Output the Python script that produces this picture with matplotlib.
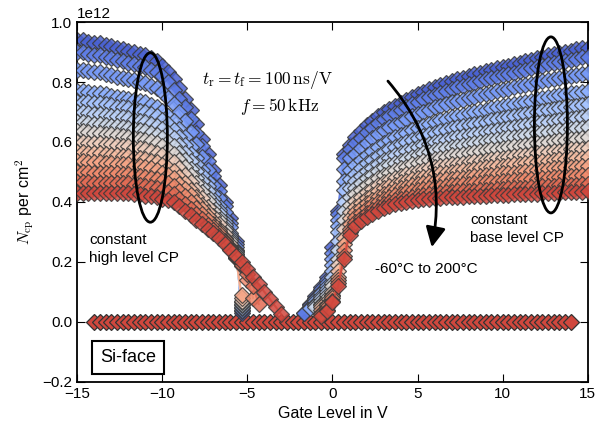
import numpy as np
import matplotlib
matplotlib.use("Agg")
import matplotlib.pyplot as plt
from matplotlib.patches import Ellipse, FancyArrowPatch

plt.rcParams['font.family'] = ['Liberation Sans', 'DejaVu Sans']
plt.rcParams['mathtext.fontset'] = 'cm'
plt.rcParams['xtick.direction'] = 'in'
plt.rcParams['ytick.direction'] = 'in'
plt.rcParams['xtick.top'] = True
plt.rcParams['ytick.right'] = True
plt.rcParams['xtick.major.size'] = 6
plt.rcParams['ytick.major.size'] = 6
plt.rcParams['axes.linewidth'] = 1.3

# gate levels in V (1/3 V steps)
x_left = np.arange(37) / 3 - 15       # -15 ... -3
x_right = np.arange(51) / 3 - 5 / 3   # -1.67 ... 15
x_zero = np.arange(85) / 3 - 14       # -14 ... 14

temps = [-60, -40, -20, 0, 20, 40, 60, 80, 100, 120, 140, 160, 180, 200]

# N_cp in 1e12 cm^-2, constant high level CP (left branch)
ncp_left = [
    [.94, .94, .935, .93, .93, .925, .92, .915, .91, .905, .90, .895, .89, .88, .87, .855, .835, .81, .78, .745, .705, .66, .61, .56, .505, .455, .40, .345, .27, .03, None, None, None, None, None, None, None],
    [.90, .90, .895, .89, .89, .885, .88, .875, .87, .865, .86, .855, .85, .84, .835, .82, .80, .775, .745, .715, .675, .63, .585, .535, .485, .435, .385, .33, .26, .035, None, None, None, None, None, None, None],
    [.84, .84, .836, .832, .832, .827, .823, .818, .815, .81, .806, .801, .797, .788, .78, .766, .748, .727, .70, .669, .633, .594, .55, .505, .458, .413, .365, .317, .25, .04, None, None, None, None, None, None, None],
    [.77, .77, .767, .763, .763, .759, .755, .751, .748, .744, .739, .736, .732, .724, .716, .704, .688, .669, .644, .616, .584, .548, .508, .469, .425, .386, .342, .297, .239, .045, None, None, None, None, None, None, None],
    [.735, .735, .732, .729, .729, .725, .722, .718, .715, .712, .707, .704, .699, .692, .685, .673, .659, .641, .618, .59, .56, .526, .489, .452, .411, .374, .333, .291, .236, .05, None, None, None, None, None, None, None],
    [.70, .70, .697, .694, .694, .691, .688, .685, .682, .679, .674, .671, .667, .661, .654, .643, .629, .613, .59, .564, .536, .504, .469, .435, .397, .362, .323, .284, .232, .055, None, None, None, None, None, None, None],
    [.665, .665, .662, .66, .66, .657, .654, .652, .649, .646, .642, .639, .635, .629, .622, .612, .60, .585, .563, .539, .511, .481, .45, .417, .382, .35, .313, .276, .228, .06, None, None, None, None, None, None, None],
    [.635, .635, .633, .631, .631, .628, .626, .623, .621, .618, .613, .611, .607, .602, .596, .586, .574, .56, .54, .516, .491, .463, .432, .403, .37, .339, .305, .269, .225, .065, None, None, None, None, None, None, None],
    [.60, .60, .598, .596, .596, .594, .592, .589, .587, .586, .581, .579, .575, .57, .564, .555, .544, .532, .512, .49, .466, .44, .412, .384, .353, .326, .293, .26, .22, .07, None, None, None, None, None, None, None],
    [.565, .565, .563, .562, .562, .559, .558, .556, .554, .553, .547, .546, .542, .538, .532, .524, .514, .502, .484, .463, .441, .417, .391, .365, .337, .311, .281, .25, .213, .08, None, None, None, None, None, None, None],
    [.535, .535, .534, .532, .532, .531, .529, .528, .526, .525, .52, .519, .515, .512, .506, .498, .49, .479, .461, .442, .422, .399, .376, .352, .327, .304, .276, .247, .214, .09, None, None, None, None, None, None, None],
    [.50, .50, .499, .498, .498, .497, .496, .495, .494, .494, .489, .488, .483, .481, .476, .469, .462, .453, .436, .419, .40, .38, .36, .339, .317, .297, .271, .246, .216, .185, .14, .08, None, None, None, None, None],
    [.465, .465, .465, .464, .464, .464, .463, .462, .462, .462, .457, .456, .452, .451, .445, .439, .433, .426, .41, .394, .377, .359, .342, .324, .305, .287, .265, .242, .217, .19, .16, .12, .06, None, None, None, None],
    [.43, .43, .43, .43, .43, .43, .43, .43, .43, .43, .425, .425, .42, .42, .415, .41, .405, .40, .385, .37, .355, .34, .325, .31, .295, .28, .26, .24, .22, .20, .175, .15, .125, .10, .075, .05, .025],
]

# N_cp in 1e12 cm^-2, constant base level CP (right branch)
ncp_right = [
    [.03, .06, .085, .115, .15, .25, .37, .56, .59, .615, .635, .655, .67, .685, .70, .71, .72, .73, .74, .75, .76, .768, .776, .784, .79, .797, .803, .81, .815, .82, .826, .831, .836, .841, .846, .85, .855, .86, .865, .87, .875, .88, .885, .889, .893, .897, .901, .905, .909, .912, .915],
    [.03, .055, .08, .11, .14, .23, .36, .545, .575, .595, .614, .634, .648, .663, .677, .687, .697, .706, .716, .726, .735, .743, .751, .758, .764, .771, .777, .782, .788, .793, .798, .804, .809, .813, .818, .822, .827, .831, .836, .841, .846, .851, .855, .86, .864, .868, .871, .875, .878, .882, .885],
    [None, .05, .075, .10, .13, .21, .34, .51, .545, .56, .579, .598, .612, .626, .64, .649, .658, .667, .676, .685, .694, .701, .708, .715, .721, .726, .732, .737, .741, .746, .751, .756, .761, .765, .769, .773, .777, .782, .786, .791, .795, .80, .804, .807, .811, .814, .818, .821, .824, .827, .83],
    [None, .045, .07, .095, .12, .19, .32, .47, .505, .523, .541, .558, .571, .584, .598, .606, .615, .624, .631, .64, .648, .654, .661, .667, .672, .677, .682, .686, .691, .695, .699, .704, .708, .712, .715, .719, .723, .727, .731, .735, .738, .742, .746, .749, .753, .756, .759, .762, .765, .768, .77],
    [None, None, .06, .085, .11, .17, .30, .44, .475, .494, .512, .529, .541, .554, .566, .575, .583, .592, .599, .606, .614, .62, .625, .631, .636, .64, .645, .649, .653, .657, .661, .664, .668, .672, .675, .679, .682, .686, .689, .693, .696, .70, .703, .706, .709, .712, .715, .718, .72, .723, .725],
    [None, None, .055, .08, .10, .15, .27, .40, .445, .469, .486, .503, .514, .527, .539, .547, .555, .562, .57, .577, .584, .589, .594, .599, .603, .608, .612, .616, .619, .623, .627, .63, .634, .637, .64, .643, .646, .649, .652, .655, .659, .662, .665, .668, .671, .673, .676, .678, .68, .683, .685],
    [None, None, .05, .07, .09, .13, .24, .37, .415, .447, .463, .48, .491, .504, .515, .523, .53, .538, .544, .551, .557, .562, .567, .572, .576, .58, .584, .587, .59, .593, .596, .60, .603, .606, .609, .612, .615, .617, .62, .623, .626, .629, .632, .634, .637, .639, .641, .644, .646, .648, .65],
    [None, None, None, .06, .08, .12, .21, .34, .39, .425, .441, .457, .468, .48, .491, .498, .506, .512, .518, .525, .531, .535, .54, .544, .548, .551, .555, .558, .56, .563, .566, .569, .572, .575, .577, .58, .582, .585, .587, .59, .593, .596, .598, .601, .603, .605, .607, .609, .611, .613, .615],
    [None, None, None, .055, .07, .10, .19, .31, .365, .403, .418, .433, .444, .455, .466, .473, .48, .487, .492, .498, .503, .507, .512, .516, .519, .522, .525, .528, .53, .533, .536, .538, .541, .543, .546, .548, .55, .553, .555, .558, .56, .563, .565, .567, .569, .571, .573, .575, .577, .578, .58],
    [None, None, None, .05, .06, .09, .17, .28, .345, .384, .398, .414, .424, .435, .445, .452, .458, .465, .47, .475, .48, .484, .488, .492, .495, .497, .50, .503, .505, .508, .51, .513, .515, .517, .519, .521, .523, .525, .527, .529, .532, .534, .536, .538, .54, .542, .544, .546, .547, .548, .55],
    [None, None, None, .04, .055, .085, .15, .26, .325, .366, .381, .396, .406, .416, .426, .433, .439, .445, .45, .455, .46, .463, .467, .47, .473, .476, .478, .48, .481, .483, .485, .487, .489, .491, .493, .495, .497, .498, .50, .502, .504, .506, .508, .51, .512, .513, .515, .516, .517, .519, .52],
    [None, None, None, .03, .05, .08, .14, .24, .31, .35, .364, .379, .389, .399, .41, .417, .422, .428, .433, .437, .441, .444, .446, .449, .451, .454, .456, .458, .459, .461, .462, .464, .465, .467, .468, .47, .471, .473, .474, .475, .477, .478, .48, .481, .483, .484, .486, .487, .488, .489, .49],
    [None, None, None, .025, .04, .07, .13, .22, .30, .333, .347, .362, .372, .382, .392, .399, .405, .41, .414, .417, .421, .423, .426, .428, .43, .432, .434, .435, .436, .437, .438, .439, .44, .441, .443, .444, .445, .446, .447, .448, .45, .451, .452, .453, .454, .455, .456, .457, .458, .459, .46],
    [None, None, None, .02, .035, .065, .12, .21, .29, .32, .335, .35, .36, .37, .38, .387, .393, .398, .401, .404, .407, .409, .411, .413, .414, .415, .417, .418, .418, .419, .42, .42, .421, .422, .423, .424, .424, .425, .426, .426, .427, .428, .429, .43, .431, .431, .432, .433, .434, .434, .435],
]

ncp_zero = [0.0] * 85

fig = plt.figure(figsize=(5.98, 4.32), dpi=100)
ax = fig.add_axes([0.129, 0.116, 0.854, 0.833])

colors = plt.cm.coolwarm(np.linspace(0.05, 0.92, len(temps)))

ax.plot(x_zero, np.array(ncp_zero) * 1e12, 'D', color=colors[-1], ms=8.5,
        mec='#333333', mew=0.9, zorder=1)

for i, T in enumerate(temps):
    yl = np.array(ncp_left[i], dtype=float) * 1e12
    yr = np.array(ncp_right[i], dtype=float) * 1e12
    for xx, yy in ((x_left, yl), (x_right, yr)):
        ax.plot(xx, yy, '-D', color=colors[i], lw=1.5, ms=8.5,
                mec='#3a3a3a', mew=0.9, alpha=0.85, zorder=2 + i)

ax.set_xlim(-15, 15)
ax.set_ylim(-0.2e12, 1.0e12)
ax.set_xticks(np.arange(-15, 16, 5))
ax.set_yticks(np.arange(-0.2, 1.01, 0.2) * 1e12)
ax.tick_params(labelsize=11)
ax.yaxis.get_offset_text().set_fontsize(11)
ax.set_xlabel('Gate Level in V', fontsize=11.5)
ax.set_ylabel(r'$N_{\rm cp}$ per cm$^2$', fontsize=11.5)

# annotations
ax.text(-3.8, 0.807e12, r'$t_{\rm r} = t_{\rm f} = 100\,{\rm ns/V}$', fontsize=12.5,
        ha='center', va='center', zorder=30)
ax.text(-3.1, 0.717e12, r'$f = 50\,{\rm kHz}$', fontsize=12.5,
        ha='center', va='center', zorder=30)
ax.text(-14.3, 0.242e12, 'constant\nhigh level CP', fontsize=11, ha='left',
        va='center', linespacing=1.35, zorder=30)
ax.text(8.1, 0.31e12, 'constant\nbase level CP', fontsize=11, ha='left',
        va='center', linespacing=1.35, zorder=30)
ax.text(2.5, 0.177e12, '-60°C to 200°C', fontsize=11, ha='left', va='center', zorder=30)
ax.text(-12.0, -0.118e12, 'Si-face', fontsize=13, ha='center', va='center', zorder=30,
        bbox=dict(boxstyle='square,pad=0.45', fc='white', ec='black', lw=1.5))

ax.add_patch(Ellipse((-10.7, 0.615e12), 2.0, 0.565e12, fill=False, ec='black', lw=2, zorder=40))
ax.add_patch(Ellipse((12.83, 0.657e12), 1.94, 0.587e12, fill=False, ec='black', lw=2, zorder=40))
ax.add_patch(FancyArrowPatch((3.15, 0.81e12), (5.8, 0.24e12), connectionstyle='arc3,rad=-0.25',
                             arrowstyle='-|>,head_length=0.6,head_width=0.3', mutation_scale=20,
                             color='black', lw=2, zorder=40))

fig.savefig('out.png', dpi=100)
